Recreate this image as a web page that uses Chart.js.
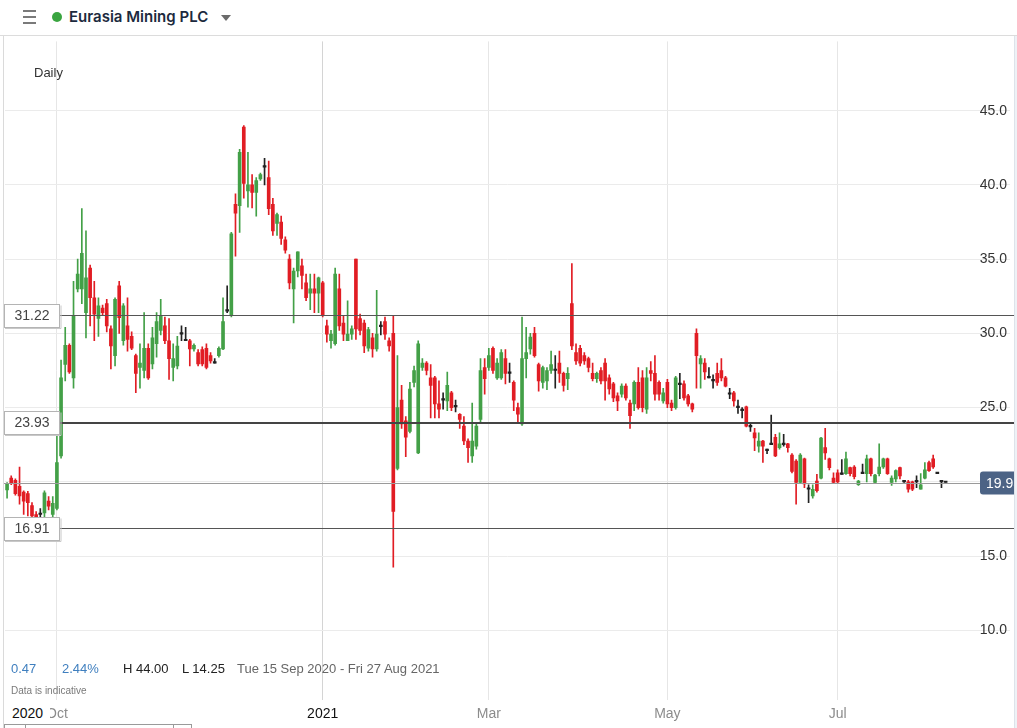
<!DOCTYPE html>
<html>
<head>
<meta charset="utf-8">
<title>Eurasia Mining PLC</title>
<script src="https://cdn.jsdelivr.net/npm/chart.js@4.4.0/dist/chart.umd.min.js"></script>
<style>
  html, body { margin: 0; padding: 0; background: #fff; }
  body { width: 1017px; height: 728px; position: relative; overflow: hidden; font-family: "Liberation Sans", Arial, sans-serif; }
  .header { position: absolute; left: 0; top: 0; width: 1017px; height: 35px; border-bottom: 1px solid #dcdcdc; }
  .burger { position: absolute; left: 23px; top: 10px; width: 13px; }
  .burger span { display: block; height: 1.5px; background: #7a7a7a; margin-bottom: 4.5px; }
  .dot { position: absolute; left: 52px; top: 12px; width: 10px; height: 10px; border-radius: 50%; background: #3aa540; }
  .title { position: absolute; left: 69px; top: 7px; font: 600 15px "Inter", "Noto Sans", sans-serif; color: #1c2a3e; }
  .caret { position: absolute; left: 221px; top: 15px; width: 0; height: 0; border-left: 5px solid transparent; border-right: 5px solid transparent; border-top: 6px solid #6b6b6b; }
  #wrap { position: absolute; left: 0; top: 36px; width: 1017px; height: 692px; }
  .leftline { position: absolute; left: 3px; top: 36px; width: 1px; height: 692px; background: #dadada; }
  .rightstrip { position: absolute; left: 1014px; top: 36px; width: 3px; height: 692px; background: #eef2f6; border-left: 1px solid #dde3ea; }
  .daily { position: absolute; left: 34px; top: 65px; font-size: 13px; color: #333; }
  .info { position: absolute; top: 661px; font-size: 13px; white-space: nowrap; }
  .note { position: absolute; left: 11px; top: 685px; font-size: 10px; color: #7a7a7a; }
  .year0 { position: absolute; left: 5px; top: 704px; width: 45px; padding-left: 7px; box-sizing: border-box; background: #fff; font-size: 14px; color: #111; line-height: 18px; }
  .nav { position: absolute; left: 4px; top: 724px; width: 186px; height: 6px; border-top: 1px solid #9a9a9a; border-left: 1px solid #9a9a9a; border-right: 1px solid #9a9a9a; }
  .nav i { position: absolute; top: 0; width: 1px; height: 5px; background: #9a9a9a; }
</style>
</head>
<body>
<div class="header">
  <div class="burger"><span></span><span></span><span></span></div>
  <div class="dot"></div>
  <div class="title">Eurasia Mining PLC</div>
  <div class="caret"></div>
</div>
<div id="wrap"><canvas id="chart" width="1017" height="692"></canvas></div>
<div class="leftline"></div>
<div class="rightstrip"></div>
<div class="daily">Daily</div>
<div class="info" style="left:11px;color:#3f7fbf">0.47</div>
<div class="info" style="left:62px;color:#3f7fbf">2.44%</div>
<div class="info" style="left:123px;color:#222">H 44.00</div>
<div class="info" style="left:182px;color:#222">L 14.25</div>
<div class="info" style="left:237px;color:#666">Tue 15 Sep 2020 - Fri 27 Aug 2021</div>
<div class="note">Data is indicative</div>
<div class="year0">2020</div>
<div class="nav"><i style="left:20px"></i><i style="left:168px"></i></div>

<script>
// trading days (LSE), 15 Sep 2020 - 27 Aug 2021
const startDay = '2020-09-15';
const endDay = '2021-08-27';
const holidays = ['2020-12-25', '2020-12-28', '2021-01-01', '2021-04-02', '2021-04-05', '2021-05-03', '2021-05-31'];

const tickDates = ['2020-10-01', '2021-01-04', '2021-03-01', '2021-05-04', '2021-07-01'];
const tickLabels = ['Oct', '2021', 'Mar', 'May', 'Jul'];
const yTicks = [10, 15, 20, 25, 30, 35, 40, 45];

const levels = [31.22, 23.93, 16.91];
const lastPrice = 19.95;

// OHLC, one entry per trading day from 15 Sep 2020
const opens = [
  19.45, 20.25, 20.1, 19.7, 19.3, 19.2, 18.4, 17.8, 17.8, 17.9,
  18.7, 17.8, 18.2, 21.75, 27.9, 29.2, 27.0, 33.0, 33.0, 31.4,
  34.4, 32.4, 31.0, 31.7, 32.0, 30.3, 28.5, 33.2, 29.5, 30.5,
  29.8, 28.5, 27.7, 27.5, 29.0, 27.95, 29.3, 30.2, 30.5, 29.5,
  27.7, 27.8, 29.95, 29.5, 29.5, 28.95, 28.7, 28.9, 29.0, 28.5,
  28.0, 28.5, 28.95, 31.5, 31.2, 38.7, 38.6, 43.9, 39.6, 40.0,
  39.5, 40.4, 41.2, 40.5, 38.7, 37.4, 37.5, 36.3, 35.0, 33.0,
  34.2, 34.55, 33.4, 32.7, 33.0, 32.7, 33.4, 30.5, 29.5, 29.3,
  33.0, 30.7, 29.5, 29.95, 35.0, 31.0, 30.7, 29.0, 29.7, 28.95,
  30.45, 30.8, 29.5, 30.0, 20.9, 25.5, 24.1, 23.4, 26.7, 21.95,
  27.7, 28.0, 27.0, 27.0, 25.25, 25.5, 25.45, 26.0, 25.05, 24.55,
  23.75, 22.75, 21.75, 22.4, 24.2, 27.7, 27.7, 29.0, 27.0, 27.0,
  28.3, 27.3, 26.7, 25.0, 23.9, 28.3, 28.95, 30.0, 27.9, 26.7,
  26.8, 27.5, 27.5, 28.0, 27.3, 26.95, 32.0, 28.7, 29.0, 28.5,
  28.3, 27.3, 26.95, 27.5, 28.0, 27.0, 26.6, 25.8, 25.9, 26.45,
  25.3, 25.25, 26.7, 27.0, 24.9, 27.5, 27.3, 26.7, 25.45, 26.7,
  25.3, 25.0, 26.55, 26.6, 25.8, 25.25, 30.0, 27.95, 28.0, 27.0,
  26.8, 27.3, 27.5, 27.0, 25.9, 26.0, 25.0, 24.8, 25.05, 23.7,
  23.3, 22.4, 22.75, 22.1, 22.5, 23.0, 22.3, 22.5, 22.55, 21.8,
  21.4, 19.95, 21.55, 19.5, 19.05, 20.05, 20.25, 22.3, 21.55, 20.25,
  20.6, 20.5, 20.55, 20.95, 21.0, 19.8, 20.55, 20.55, 21.55, 19.95,
  20.55, 21.0, 21.55, 19.95, 20.2, 20.95, 20.0, 20.0, 20.0, 20.0,
  19.5, 20.25, 21.3, 21.55, 20.55, 20.0, 19.95
];
const highs = [
  19.95, 20.4, 20.2, 21.0, 19.4, 19.35, 18.6, 18.0, 18.2, 19.4,
  19.0, 19.0, 23.1, 28.2, 30.4, 29.3, 33.5, 35.0, 38.4, 36.9,
  34.6, 33.5, 32.4, 31.9, 32.3, 30.5, 32.4, 33.5, 32.0, 32.4,
  30.1, 28.6, 29.3, 31.4, 29.3, 30.4, 31.4, 32.3, 31.1, 31.0,
  29.3, 29.8, 30.5, 30.4, 29.6, 29.3, 28.9, 29.1, 29.3, 28.7,
  28.3, 29.1, 32.4, 33.2, 36.8, 39.4, 42.4, 44.0, 42.2, 40.7,
  40.5, 40.8, 41.8, 41.6, 39.1, 38.1, 37.9, 36.5, 35.3, 34.4,
  35.5, 35.0, 34.0, 34.0, 34.0, 33.8, 33.5, 30.9, 30.2, 34.4,
  34.0, 31.2, 32.2, 30.5, 35.0, 31.3, 30.9, 30.4, 30.0, 32.9,
  30.8, 31.1, 29.7, 31.2, 28.5, 26.5, 24.4, 26.7, 27.8, 29.5,
  28.3, 28.1, 27.9, 27.1, 26.8, 26.0, 27.4, 26.1, 25.5, 24.6,
  24.4, 22.9, 25.3, 24.0, 28.3, 28.3, 29.0, 29.1, 28.3, 28.9,
  28.9, 28.0, 26.8, 25.3, 31.1, 30.4, 30.0, 30.4, 28.0, 27.8,
  27.7, 28.8, 28.5, 28.8, 27.4, 27.7, 34.7, 29.3, 29.2, 28.7,
  28.4, 28.0, 27.4, 27.7, 28.3, 27.2, 26.7, 26.0, 26.6, 26.6,
  25.5, 26.8, 27.7, 27.5, 27.7, 28.1, 28.5, 26.8, 26.3, 26.9,
  25.5, 27.1, 27.3, 26.8, 25.9, 25.3, 30.3, 28.5, 28.3, 27.7,
  27.2, 28.0, 28.3, 27.1, 26.3, 26.1, 25.5, 25.0, 25.1, 24.0,
  23.6, 23.3, 22.8, 22.2, 24.5, 23.2, 23.3, 23.2, 22.6, 21.9,
  21.5, 21.9, 21.6, 19.8, 19.8, 20.5, 23.0, 23.6, 21.6, 20.6,
  20.8, 21.5, 22.0, 21.0, 21.1, 20.1, 21.2, 21.8, 21.6, 20.5,
  22.55, 21.6, 21.6, 20.4, 20.8, 21.0, 20.05, 20.1, 20.05, 20.4,
  20.55, 21.3, 21.4, 21.8, 20.55, 20.0, 19.95
];
const lows = [
  18.9, 19.8, 19.1, 18.5, 17.8, 17.7, 17.4, 17.0, 17.4, 17.4,
  18.1, 17.5, 18.1, 21.6, 26.8, 27.3, 26.3, 32.8, 32.0, 29.7,
  30.5, 29.5, 29.8, 31.2, 30.1, 27.6, 27.8, 30.0, 29.2, 28.8,
  28.9, 26.0, 26.3, 27.0, 26.9, 27.6, 28.4, 29.9, 29.3, 26.9,
  26.8, 27.6, 29.5, 29.5, 27.8, 28.8, 27.8, 27.8, 27.6, 28.0,
  28.0, 28.4, 28.9, 31.4, 31.1, 35.2, 36.8, 39.1, 38.5, 38.45,
  37.9, 40.3, 40.0, 38.0, 36.6, 36.6, 36.0, 35.4, 33.0, 30.7,
  33.8, 33.0, 32.2, 31.6, 31.4, 31.4, 31.1, 29.4, 29.0, 29.2,
  30.2, 29.5, 29.5, 29.6, 29.6, 29.9, 28.7, 28.8, 28.4, 28.8,
  29.9, 29.6, 28.8, 14.25, 20.8, 23.6, 21.7, 23.3, 26.4, 21.9,
  27.5, 27.2, 24.3, 24.3, 24.3, 24.9, 24.8, 24.8, 24.7, 23.6,
  22.5, 21.3, 21.3, 22.2, 24.0, 25.9, 27.5, 27.3, 26.9, 26.9,
  26.6, 26.7, 24.8, 24.0, 23.8, 27.0, 28.6, 28.4, 26.1, 26.3,
  26.2, 27.3, 26.3, 26.7, 26.1, 26.2, 28.9, 27.9, 27.8, 27.9,
  27.4, 26.8, 26.7, 26.6, 25.5, 25.9, 25.4, 24.8, 25.7, 25.5,
  23.6, 24.8, 24.9, 24.7, 24.6, 26.8, 25.5, 25.5, 25.3, 25.0,
  24.8, 24.9, 25.6, 25.5, 25.1, 24.7, 26.3, 26.3, 26.9, 27.0,
  26.3, 26.5, 26.8, 26.4, 25.6, 25.1, 24.6, 24.3, 23.7, 23.4,
  22.1, 22.0, 21.3, 21.9, 22.5, 21.7, 22.2, 22.4, 22.0, 20.6,
  18.5, 19.9, 19.6, 18.6, 18.9, 19.3, 20.2, 21.5, 20.8, 19.9,
  19.9, 20.5, 20.5, 20.4, 20.2, 19.75, 20.55, 20.0, 20.4, 19.9,
  20.4, 20.9, 20.5, 19.75, 20.0, 20.2, 19.95, 19.3, 19.4, 19.6,
  19.5, 20.2, 20.7, 20.9, 20.55, 19.6, 19.95
];
const closes = [
  19.85, 19.9, 19.2, 19.05, 18.7, 18.6, 17.7, 17.3, 17.8, 19.25,
  18.35, 18.55, 21.3, 27.0, 29.2, 27.4, 31.2, 34.0, 35.4, 33.75,
  32.4, 31.3, 31.85, 31.4, 30.5, 29.15, 32.3, 31.05, 31.85, 29.6,
  29.0, 27.3, 28.0, 29.0, 27.0, 29.7, 30.8, 31.2, 29.5, 28.3,
  28.3, 29.15, 29.95, 29.5, 28.95, 29.2, 27.95, 27.95, 27.7, 28.15,
  28.0, 29.0, 30.8, 31.5, 36.7, 38.1, 42.2, 40.1, 40.0, 39.5,
  40.3, 40.7, 41.2, 38.4, 36.9, 38.0, 36.4, 35.6, 33.4, 34.2,
  35.5, 33.9, 32.4, 33.0, 32.7, 33.75, 31.2, 29.95, 29.95, 34.0,
  30.5, 29.95, 29.95, 30.3, 30.3, 30.2, 29.15, 30.25, 28.95, 29.95,
  30.45, 29.95, 29.15, 18.0, 25.0, 23.9, 23.0, 26.25, 27.5, 29.3,
  28.0, 27.5, 26.5, 25.25, 24.9, 25.5, 26.5, 25.0, 25.05, 24.2,
  22.75, 22.3, 22.75, 23.75, 27.5, 26.95, 28.5, 27.5, 28.0, 28.7,
  27.3, 27.3, 25.5, 24.55, 28.3, 28.7, 29.75, 28.5, 26.8, 27.7,
  27.5, 27.9, 27.5, 27.3, 26.5, 27.3, 29.15, 28.15, 28.0, 28.15,
  27.7, 26.95, 27.3, 26.8, 26.8, 26.25, 25.65, 25.45, 26.45, 25.65,
  24.45, 26.7, 25.0, 25.0, 27.0, 27.3, 25.9, 25.9, 26.0, 25.25,
  25.0, 27.0, 26.55, 25.65, 25.25, 24.9, 28.5, 28.3, 27.4, 27.0,
  26.8, 26.7, 27.0, 26.45, 25.9, 25.45, 25.0, 24.8, 23.75, 23.7,
  22.95, 22.75, 22.4, 22.1, 22.5, 21.75, 22.55, 22.5, 22.3, 20.7,
  19.95, 21.8, 19.85, 19.5, 19.5, 19.4, 22.95, 21.95, 20.95, 19.95,
  20.0, 20.5, 21.55, 20.55, 20.35, 20.05, 20.55, 21.55, 20.55, 20.45,
  21.0, 21.55, 20.55, 20.25, 20.75, 20.4, 20.0, 19.5, 19.5, 20.0,
  19.8, 20.8, 20.75, 21.0, 20.55, 20.0, 19.95
];

document.addEventListener('DOMContentLoaded', () => {
    // --- categories: weekdays minus exchange holidays ---
    const days = [];
    const last = new Date(endDay + 'T00:00:00Z');
    for (let d = new Date(startDay + 'T00:00:00Z'); d <= last; d.setUTCDate(d.getUTCDate() + 1)) {
        const wd = d.getUTCDay();
        const s = d.toISOString().slice(0, 10);
        if (wd !== 0 && wd !== 6 && !holidays.includes(s)) days.push(s);
    }

    const tickMap = {};
    tickDates.forEach((d, i) => { tickMap[days.indexOf(d)] = tickLabels[i]; });

    const green = '#43a047';
    const red = '#e11d24';
    const flat = '#222222';
    const candleColors = opens.map((o, i) => closes[i] > o ? green : (closes[i] < o ? red : flat));

    const wickData = lows.map((l, i) => [l, highs[i]]);
    const bodyData = opens.map((o, i) => [o, closes[i]]);

    // --- level lines, boxes and last price tag ---
    const levelPlugin = {
        id: 'levels',
        afterDatasetsDraw(chart) {
            const { ctx, scales: { y } } = chart;
            ctx.save();

            // last price line
            const py = Math.round(y.getPixelForValue(lastPrice)) + 0.5;
            ctx.strokeStyle = '#9a9a9a';
            ctx.lineWidth = 1;
            ctx.beginPath();
            ctx.moveTo(4, py);
            ctx.lineTo(980, py);
            ctx.stroke();

            levels.forEach((v, i) => {
                const w = i === 1 ? 2 : 1;
                const ly = Math.round(y.getPixelForValue(v)) + (w === 1 ? 0.5 : 0);
                ctx.strokeStyle = i === 1 ? '#444' : '#555';
                ctx.lineWidth = w;
                ctx.beginPath();
                ctx.moveTo(60, ly);
                ctx.lineTo(1014, ly);
                ctx.stroke();

                // label box
                const top = Math.round(ly) - 11.5;
                ctx.fillStyle = '#fff';
                ctx.fillRect(4, top, 56, 23);
                ctx.strokeStyle = '#b4b4b4';
                ctx.lineWidth = 1;
                ctx.strokeRect(4.5, top, 55, 23);
                ctx.strokeStyle = '#c8c8c8';
                ctx.beginPath();
                ctx.moveTo(61, top + 1);
                ctx.lineTo(61, top + 24);
                ctx.lineTo(5, top + 24);
                ctx.stroke();
                ctx.fillStyle = '#444';
                ctx.font = '14px "Liberation Sans", Arial, sans-serif';
                ctx.textAlign = 'center';
                ctx.textBaseline = 'middle';
                ctx.fillText(v.toFixed(2), 32, top + 12);
            });

            // price tag
            ctx.fillStyle = '#4c6385';
            ctx.beginPath();
            ctx.roundRect(980, py - 12, 44, 23, 3);
            ctx.fill();
            ctx.fillStyle = '#fff';
            ctx.font = '14px "Liberation Sans", Arial, sans-serif';
            ctx.textAlign = 'left';
            ctx.textBaseline = 'middle';
            ctx.fillText(lastPrice.toFixed(2), 986, py + 0.5);
            ctx.restore();
        }
    };

    Chart.defaults.font.family = '"Liberation Sans", Arial, sans-serif';

    new Chart(document.getElementById('chart'), {
        type: 'bar',
        data: {
            labels: days,
            datasets: [
                {
                    label: 'Range',
                    data: wickData,
                    backgroundColor: candleColors,
                    barThickness: 1,
                    grouped: false,
                    order: 2
                },
                {
                    label: 'Body',
                    data: bodyData,
                    backgroundColor: candleColors,
                    barThickness: 3,
                    minBarLength: 1.5,
                    grouped: false,
                    order: 1
                }
            ]
        },
        options: {
            responsive: false,
            animation: false,
            layout: { padding: { left: 5, right: 7, top: 0, bottom: 0 } },
            plugins: {
                legend: { display: false },
                tooltip: { enabled: false }
            },
            scales: {
                x: {
                    offset: true,
                    border: { display: false },
                    grid: {
                        offset: false,
                        drawTicks: false,
                        color: (c) => tickMap[c.index] === undefined ? 'rgba(0,0,0,0)' : (tickMap[c.index] === '2021' ? '#d4d4d4' : '#e6e6e6')
                    },
                    ticks: {
                        autoSkip: false,
                        maxRotation: 0,
                        padding: 6,
                        callback: (v, i) => tickMap[i] || '',
                        color: (c) => /^\d{4}$/.test(tickMap[c.index] || '') ? '#111' : '#8c8c8c',
                        font: { size: 14 }
                    },
                    afterFit: (s) => { s.height = 28; }
                },
                y: {
                    position: 'right',
                    min: 5.3,
                    max: 49.67,
                    border: { display: false },
                    grid: { color: '#ebebeb', drawTicks: false },
                    ticks: {
                        mirror: true,
                        padding: -3,
                        color: '#333',
                        font: { size: 14 },
                        callback: (v) => Number(v).toFixed(1)
                    },
                    afterBuildTicks: (s) => { s.ticks = yTicks.map(v => ({ value: v })); },
                    afterFit: (s) => { s.width = 0; }
                }
            }
        },
        plugins: [levelPlugin]
    });
});
</script>
</body>
</html>
